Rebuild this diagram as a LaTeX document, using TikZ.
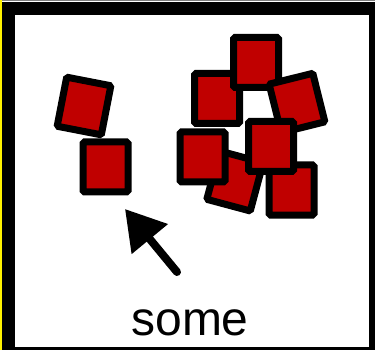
\documentclass[tikz,border=0pt]{standalone}
\usepackage{fontspec}
\setmainfont{Liberation Sans}
\usetikzlibrary{arrows.meta,positioning}
\definecolor{boxred}{HTML}{C00000}

\begin{document}
\begin{tikzpicture}[x=1pt, y=-1pt,
  block/.style={draw, fill=boxred, line width=7pt, rounded corners=1.5pt,
    minimum width=45pt, minimum height=50pt, inner sep=0pt}]
\useasboundingbox (0,0) rectangle (375,350);
\clip (0,0) rectangle (375,350);
\fill[white] (0,0) rectangle (375,350);
\fill[yellow] (0,0) rectangle (2,350);
\fill[gray] (2,0) rectangle (375,1.5);
\draw[line width=13pt] (8.5,9) rectangle (375.5,353.5);

% left pair
\node[block, rotate=-11] (a) at (84,106) {};
\node[block] (b) at (105.5,167) {};

% heap on the right
\node[block] (d) at (217,98.5) {};
\node[block] (c) at (256,62.5) {};
\node[block, rotate=14] (e) at (297,103) {};
\node[block, rotate=-15] (h) at (235,181) {};
\node[block] (i) at (291.5,190) {};
\node[block] (g) at (202.5,157) {};
\node[block] (f) at (271,146.5) {};

\coordinate (tail) at (177,272);
\coordinate (tip) at (125,209);
\draw[line width=8pt, line cap=round, -{Triangle[length=39pt,width=45pt]}] (tail) -- (tip);

\node[anchor=base, font=\fontsize{48}{50}\selectfont, inner sep=0pt] (label) at (190,335) {some};
\end{tikzpicture}
\end{document}
